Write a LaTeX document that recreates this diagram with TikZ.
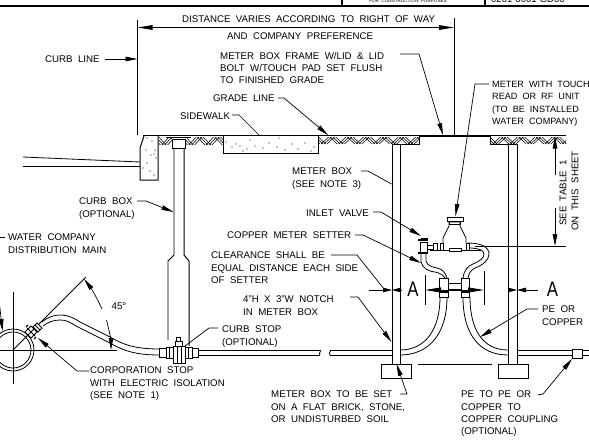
\documentclass[tikz,border=0pt]{standalone}
\usepackage{fontspec}
\setmainfont{Liberation Sans}[WordSpace=2.0]
\usetikzlibrary{arrows.meta}
\newcommand{\herring}[4]{%
  \begin{scope}
    \clip (#1,#3) rectangle (#2,#4);
    \foreach \i in {0,...,45}{
      \pgfmathtruncatemacro{\m}{mod(\i,6)}
      \pgfmathsetmacro{\xa}{#1-6+2.9*\i}
      \ifnum\m<3
        \draw[hatchline] (\xa,#3) -- (\xa+7.5,#4);
      \else
        \draw[hatchline] (\xa+7.5,#3) -- (\xa,#4);
      \fi
    }
  \end{scope}}
\tikzset{
  lblbase/.style={inner sep=0pt,align=left,font=\fontsize{9.7}{12.3}\selectfont},
  lbl/.style={lblbase,anchor=north west,yshift=-2pt},
  single/.style={lblbase,anchor=west},
  leader/.style={line width=0.7pt},
  arrowed/.style={line width=0.7pt,-{Triangle[length=12pt,width=4.6pt]}},
  arrowboth/.style={line width=0.8pt,{Triangle[length=15pt,width=4.6pt]}-{Triangle[length=15pt,width=4.6pt]}},
  part/.style={line width=0.8pt},
  heavy/.style={line width=1.4pt},
  hatchline/.style={line width=0.55pt},
  stipple/.style={fill=black},
  secletter/.style={inner sep=0pt,xscale=0.8,font=\fontsize{21}{21}\selectfont},
  shorthead/.style={line width=0.8pt,-{Triangle[length=9pt,width=4.6pt]}}
}
\begin{document}
\begin{tikzpicture}[x=1pt,y=-1pt]
\useasboundingbox (0,0) rectangle (589,444);
\fill[white] (0,0) rectangle (589,444);
\clip (0,0) rectangle (589,444);

% title block remains
\draw[heavy] (0,6) -- (589,6);
\draw[heavy] (342,0) -- (342,6) (485,0) -- (485,6);
\node[inner sep=0pt,font=\fontsize{4.6}{5}\selectfont] (tbtext) at (408,1.2) {FOR CONSTRUCTION PURPOSES};
\node[anchor=west,inner sep=0pt,font=\fontsize{9.5}{10}\selectfont] (tbno) at (491,-0.8) {0201-0001-GD00};

% named points
\coordinate (curbTop) at (137.5,20);
\coordinate (curbBot) at (137.5,135);
\coordinate (rowTop) at (454,18);
\coordinate (rowBot) at (454,135);
\coordinate (dimL) at (137.5,27.5);
\coordinate (dimR) at (454,27.5);

% dimension and extension lines
\draw[part] (curbTop) -- (curbBot);
\draw[part] (rowTop) -- (rowBot);
\draw[arrowboth] (dimL) -- (dimR);

% grade
\draw[line width=1.1pt] (143,135.5) -- (566,135.5);
\draw[line width=1.9pt] (419,136) -- (490,136);
\herring{159}{172}{137}{145}
\herring{186}{223}{137}{145}
\herring{318.5}{419}{137}{144}
\herring{490}{566}{137}{144}
\draw[part] (419,136) -- (419,144) -- (392,144);
\draw[part] (490,136) -- (490,144) -- (517,144);

% curb and pavement
\draw[line width=1pt] (144,136) -- (140,148) -- (140,180) -- (158,180) -- (158,136);
\draw[part] (23,157) -- (140,162);
\draw[part] (23,166) -- (140,166);
% sidewalk
\draw[line width=1pt] (223,136) -- (223,153) -- (318,153) -- (318,136);
\foreach \p in {(147,138),(152,141),(155,150),(151,155),(154,154),(147,163),(150,171),(143,168),(156,158),(146,150),(154,175),(226,142),(232,147),(236,144),(243,151),(247,149),(255,146),(263,148),(269,143),(277,147),(279,138),(285,150),(292,144),(298,149),(305,143),(311,151),(314,147),(250,140),(240,146)}
  \fill[stipple] \p circle[radius=0.6pt];

% curb box
\draw[part] (166,137) -- (191,137);
\draw[part] (172.5,139.5) rectangle (185.5,148);
\draw[part] (174,148) -- (174,255) -- (168,261) -- (168,340);
\draw[line width=1pt] (184,148) -- (184,255) -- (189,261) -- (189,346);

% curb stop
\draw[part,fill=white] (173,346) rectangle (185,363);
\draw[part] (177,346) -- (177,363) (181,346) -- (181,363);
\draw[part,fill=white] (175,341) rectangle (182,346);
\draw[part] (176.5,337.5) rectangle (180.5,341);
\draw[part,fill=white] (159,348) rectangle (166,357);
\draw[part,fill=white] (166,347) rectangle (173,358);
\draw[part] (169,347) -- (169,358);
\draw[part,fill=white] (185,347) rectangle (192,358);
\draw[part,fill=white] (192,348) rectangle (198,357);
\draw[part] (188,347) -- (188,358);

% main and service line
\draw[part] (13,350) circle[radius=21pt];
\draw[part] (13,350) circle[radius=18pt];
\draw[part] (13,292) -- (13,384);
\draw[line width=1pt] (0,350) -- (117,350);
\draw[part] (13,350) -- (86,277);
\draw[part] (42,322) .. controls (48,317) and (54,315) .. (60,315)
  .. controls (68,315) and (74,318) .. (80,322)
  -- (110,337) .. controls (122,344) and (134,349) .. (159,349);
\draw[part] (43,326) .. controls (48,322) and (54,320) .. (60,320)
  .. controls (66,320) and (70,322) .. (76,326)
  -- (108,342) .. controls (122,350) and (134,355) .. (159,355);
% corporation stop
\draw[part,fill=white] (33,327) -- (37,323) -- (42,328) -- (38,332) -- cycle;
\draw[part] (35,325) -- (40,330);
\draw[part,fill=white] (31,326) -- (37,332) -- (31,338) -- (25,332) -- cycle;
\draw[part] (27,328) -- (35,336) (27,336) -- (35,328);
\draw[line width=1.2pt] (26,327) -- (28,325) (34,339) -- (36,337);

% 45 degree arc
\coordinate (arcA) at (84,279);
\coordinate (arcB) at (102,309);
\coordinate (arcC) at (106.5,320);
\coordinate (arcD) at (111,350);
\draw[arrowed] (arcB) .. controls (97,298) and (91,288) .. (arcA);
\draw[arrowed] (arcC) .. controls (109,330) and (111,340) .. (arcD);
\node[single] (angle) at (111.5,306) {45\textdegree};

% distance text
\node[single] (distance) at (182,19) {DISTANCE VARIES ACCORDING TO RIGHT OF WAY};
\node[single] (company) at (227,36) {AND COMPANY PREFERENCE};

% curb line
\node[single] (curbline) at (45,59) {CURB LINE};
\coordinate (curbS) at (105,59);
\coordinate (curbT) at (137.5,59);
\draw[arrowed] (curbS) -- (curbT);

% meter box frame
\node[lbl] (frame) at (220,50) {METER BOX FRAME W/LID \& LID\\BOLT W/TOUCH PAD SET FLUSH\\TO FINISHED GRADE};
\coordinate (frameS) at (400,54);
\coordinate (frameT) at (443,135);
\draw[arrowed] (frameS) -- (419,54) -- (frameT);

% grade line
\node[single] (grade) at (213,98) {GRADE LINE};
\coordinate (gradeS) at (278,98);
\coordinate (gradeT) at (328,135);
\draw[arrowed] (gradeS) -- (284,98) -- (gradeT);

% sidewalk label
\node[single] (sidewalk) at (180,116) {SIDEWALK};
\coordinate (walkS) at (232,115);
\coordinate (walkT) at (259,135);
\draw[leader] (walkS) -- (239,115) -- (walkT);

% meter with touch
\node[lbl,font=\fontsize{9.1}{12.3}\selectfont] (touch) at (492,79) {METER WITH TOUCH\\READ OR RF UNIT\\(TO BE INSTALLED\\WATER COMPANY)};
\coordinate (touchS) at (489,84);
\coordinate (touchT) at (455.5,216);
\draw[arrowed] (touchS) -- (475,84) -- (touchT);

% meter box walls and footings
\draw[part] (392,144) -- (392,364) (400,144) -- (400,364);
\draw[part] (508,144) -- (508,364) (517,144) -- (517,364);
\draw[part] (381,364) rectangle (411,378);
\draw[part] (498,364) rectangle (528,378);
\draw[part] (418,364) -- (492,364);

% pipe
\draw[part] (198,350) -- (320,350) (198,355) -- (320,355);
\draw[part] (320,350) .. controls (322,351) and (318,353) .. (320,355);
\draw[part] (330,350) -- (392,350) (330,355) -- (392,355);
\draw[part] (330,350) .. controls (332,351) and (328,353) .. (330,355);
\draw[part] (517,350) -- (572,350) (517,355) -- (572,355);
\draw[part] (582,350) -- (589,350) (582,355) -- (589,355);
\draw[part] (572,349) rectangle (582,358);

% lower setter pipes
\draw[part] (440,297) .. controls (440,330) and (425,350) .. (400,350);
\draw[part] (447,297) .. controls (447,335) and (428,355) .. (400,355);
\draw[part] (470,297) .. controls (470,330) and (483,350) .. (508,350);
\draw[part] (463,297) .. controls (463,335) and (480,355) .. (508,355);

% upper setter
\draw[part] (421,253) -- (421,262) .. controls (423,268) and (427,271) .. (435,272) .. controls (440,273) and (443,275) .. (445,278);
\draw[part] (426,253) -- (426,261) .. controls (427,265) and (431,267) .. (437,268) .. controls (442,269) and (445,272) .. (447,278);
\draw[part] (463,278) .. controls (464,270) and (468,266) .. (473,264) .. controls (480,261) and (484,258) .. (484,254) .. controls (484,250) and (478,248) .. (468,248);
\draw[part] (468,278) .. controls (469,273) and (471,270) .. (475,268) .. controls (483,265) and (489,260) .. (489,254) .. controls (489,247) and (481,243) .. (468,243);
\draw[part] (430,250) -- (481,250);
\draw[part,fill=white] (449,248) rectangle (461,251);

% section marks and clearance arrows
\coordinate (secLa) at (369,290);
\coordinate (secLb) at (392,290);
\coordinate (secRa) at (538,290);
\coordinate (secRb) at (517,290);
\draw[shorthead] (secLa) -- (secLb);
\draw[shorthead] (401,290) -- (392,290);
\draw[shorthead] (secRa) -- (secRb);
\draw[shorthead] (508,290) -- (517,290);
\node[secletter] (secA) at (413,289) {A};
\node[secletter] (secB) at (552.5,289) {A};
\coordinate (tickL) at (425,290);
\coordinate (tickR) at (484,290);
\draw[part] (425,275) -- (425,305);
\draw[part] (484,271) -- (484,305);
\draw[line width=0.8pt,{Triangle[length=16pt,width=5pt]}-{Triangle[length=16pt,width=5pt]}] (tickL) -- (tickR);

% setter couplings
\draw[part] (439,278) rectangle (448,297);
\draw[part] (461,278) rectangle (469,297);
\draw[part] (448,283) -- (461,283) (448,289) -- (461,289);
\draw[line width=1.1pt] (439,292) -- (448,292) (461,292) -- (469,292);

% meter body
\draw[part,fill=white] (443,243) -- (443,238) -- (449,226) -- (449,222) -- (460,222) -- (460,226) -- (466,238) -- (466,243);
\draw[part,fill=white] (447,217) rectangle (463,221);
\draw[part] (449,221) rectangle (460,224);
\draw[part,fill=white] (440,243) rectangle (443,250);
\draw[part,fill=white] (466,243) rectangle (469,250);
\draw[part,fill=white] (433,243) rectangle (437,250);
\draw[part] (428,245) -- (433,245) (428,249) -- (433,249);
% inlet valve
\draw[part,fill=white] (420,242) rectangle (427,253);
\draw[line width=1.1pt] (418,240) -- (428,240) (418,253) -- (428,253);
\draw[part] (421,238) rectangle (427,240);

% meter box label
\node[lbl] (meterbox) at (292,166) {METER BOX\\(SEE NOTE 3)};
\coordinate (mbS) at (361,171);
\coordinate (mbT) at (391.5,184);
\draw[leader] (mbS) -- (368,171) -- (mbT);

% inlet valve label
\node[single] (inlet) at (306,213) {INLET VALVE};
\coordinate (inletS) at (373,212);
\coordinate (inletT) at (421,236);
\draw[arrowed] (inletS) -- (381,212) -- (inletT);

% copper meter setter
\node[single] (setter) at (227,235) {COPPER METER SETTER};
\coordinate (setterS) at (355,235);
\coordinate (setterT) at (421,263);
\draw[arrowed] (setterS) -- (363,235) -- (setterT);

% clearance
\node[lbl] (clear) at (211,250) {CLEARANCE SHALL BE\\EQUAL DISTANCE EACH SIDE\\OF SETTER};
\coordinate (clearS) at (331,255);
\coordinate (clearT) at (384,289);
\draw[leader] (clearS) -- (357,255) -- (clearT);

% notch
\node[lbl] (notch) at (243,294) {4"H X 3"W NOTCH\\IN METER BOX};
\coordinate (notchS) at (350,297);
\coordinate (notchT) at (391.5,342);
\draw[arrowed] (notchS) -- (358,297) -- (notchT);

% PE or copper
\node[lbl] (pe) at (542,304) {PE OR\\COPPER};
\coordinate (peS) at (538,309);
\coordinate (peT) at (480,337);
\draw[arrowed] (peS) -- (527,309) -- (peT);

% meter box set
\node[lbl] (set) at (271,389) {METER BOX TO BE SET\\ON A FLAT BRICK, STONE,\\OR UNDISTURBED SOIL};
\coordinate (setS) at (400,394);
\coordinate (setT) at (396.5,364);
\draw[arrowed] (setS) -- (407,394) -- (setT);

% coupling
\node[lbl] (coupling) at (461,389) {PE TO PE OR\\COPPER TO\\COPPER COUPLING\\(OPTIONAL)};
\coordinate (coupS) at (538,395);
\coordinate (coupT) at (572,359);
\draw[arrowed] (coupS) -- (543,394) -- (coupT);

% curb box label
\node[lbl] (cbox) at (79,196) {CURB BOX\\(OPTIONAL)};
\coordinate (cboxS) at (137,201);
\coordinate (cboxT) at (173.5,212);
\draw[arrowed] (cboxS) -- (146,201) -- (cboxT);

% curb stop label
\node[lbl] (cstop) at (222,324) {CURB STOP\\(OPTIONAL)};
\coordinate (cstopS) at (218,328);
\coordinate (cstopT) at (185,346);
\draw[leader] (cstopS) -- (209,328) -- (cstopT);

% distribution main
\node[lbl] (main) at (8,232) {WATER COMPANY\\DISTRIBUTION MAIN};
\coordinate (mainS) at (0,237);
\coordinate (mainE) at (5,237);
\coordinate (mainA) at (-1,300);
\coordinate (mainT) at (2.5,331);
\draw[leader] (mainS) -- (mainE);
\draw[arrowed] (mainA) -- (mainT);

% corporation stop label
\node[lbl] (corp) at (90,365) {CORPORATION STOP\\WITH ELECTRIC ISOLATION\\(SEE NOTE 1)};
\coordinate (corpS) at (89,371);
\coordinate (corpT) at (38,338);
\draw[arrowed] (corpS) -- (77,371) -- (corpT);

% table dimension
\coordinate (tblTop) at (555,136.5);
\coordinate (tblMidA) at (555,175);
\coordinate (tblMidB) at (555,208);
\coordinate (tblBot) at (555,246);
\draw[arrowed] (tblMidA) -- (tblTop);
\draw[arrowed] (tblMidB) -- (tblBot);
\draw[part] (475,246) -- (566,246);
\node[inner sep=0pt,rotate=90,font=\fontsize{9.7}{12}\selectfont] (tableA) at (563,193) {SEE TABLE 1};
\node[inner sep=0pt,rotate=90,font=\fontsize{9.7}{12}\selectfont] (tableB) at (575,191) {ON THIS SHEET};
\end{tikzpicture}
\end{document}
